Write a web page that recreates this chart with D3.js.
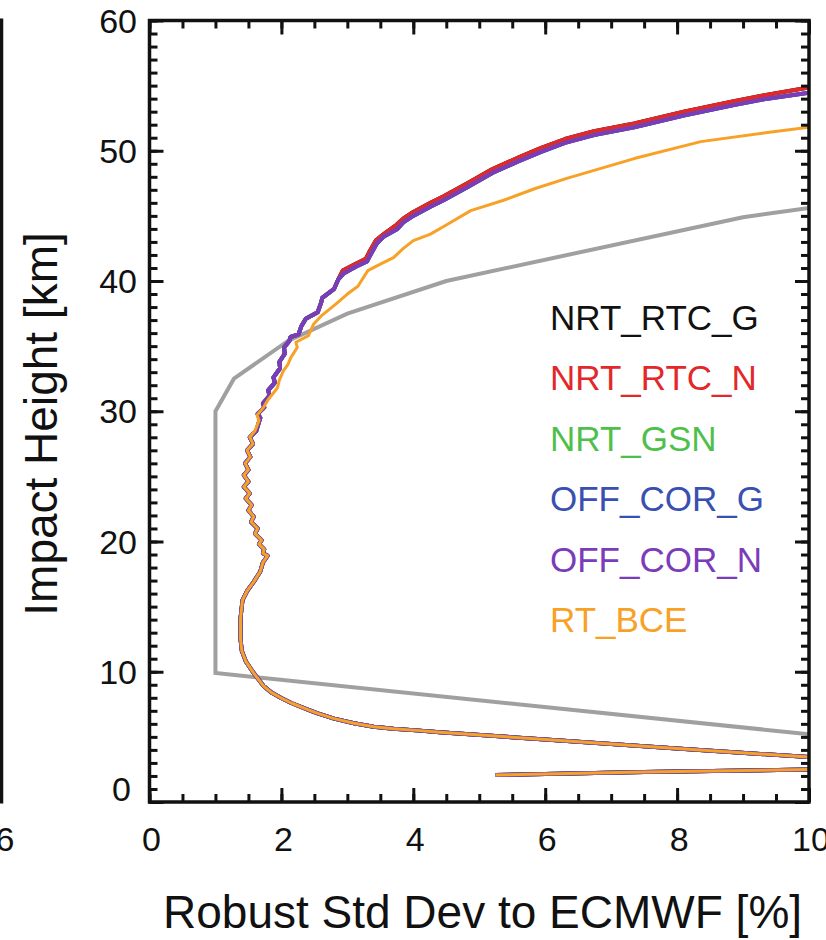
<!DOCTYPE html>
<html>
<head>
<meta charset="utf-8">
<script src="https://cdn.jsdelivr.net/npm/d3@7"></script>
<style>
    body { margin: 0; background: #fff; }
    svg { display: block; font-family: "Liberation Sans", Arial, Helvetica, sans-serif; }
</style>
</head>
<body>
<svg id="chart" width="826" height="940"></svg>
<script>
// Series names and colours (legend order = draw order)
const seriesNames = ["NRT_RTC_G", "NRT_RTC_N", "NRT_GSN", "OFF_COR_G", "OFF_COR_N", "RT_BCE"];
const seriesColors = ["#111111", "#e2282a", "#4fbf4c", "#3a50b0", "#7a3cb8", "#f7a127"];

// [std dev %, impact height km] - part shared by all profiles (below ~28 km)
const lowerProfile = [
    [5.25, 2.07], [7.5, 2.3], [10.0, 2.5], [13.0, 2.8], [13.0, 3.2], [10.0, 3.45],
    [8.0, 4.1], [6.0, 4.8], [4.4, 5.35], [4.1, 5.48], [3.7, 5.62], [3.4, 5.78],
    [3.1, 6.05], [2.8, 6.4], [2.55, 6.8], [2.4, 7.1], [2.15, 7.6], [1.99, 8.0],
    [1.85, 8.4], [1.73, 8.9], [1.58, 9.9], [1.46, 10.8], [1.40, 11.6], [1.38, 12.5],
    [1.38, 14.1], [1.41, 15.5], [1.48, 16.2], [1.58, 16.9], [1.68, 17.7], [1.72, 18.4],
    [1.79, 18.9], [1.72, 19.1], [1.74, 19.4], [1.66, 19.8], [1.70, 20.1], [1.60, 20.6],
    [1.64, 21.0], [1.54, 21.5], [1.58, 21.9], [1.50, 22.4], [1.55, 22.8], [1.46, 23.3],
    [1.52, 23.7], [1.43, 24.2], [1.50, 24.6], [1.43, 25.1], [1.50, 25.5], [1.45, 26.0],
    [1.53, 26.5], [1.48, 27.0], [1.57, 27.5], [1.52, 28.0]
];

// upper part, NRT_RTC (red / black)
const upperRTC = [
    [1.62, 28.5], [1.68, 29.5], [1.64, 29.8], [1.74, 30.3], [1.72, 30.6], [1.82, 31.2],
    [1.80, 31.6], [1.90, 32.2], [1.88, 32.6], [1.98, 33.3], [1.97, 33.8], [2.05, 34.4],
    [2.04, 34.9], [2.12, 35.4], [2.14, 35.7], [2.26, 35.9], [2.30, 36.5], [2.37, 37.1],
    [2.55, 37.6], [2.60, 38.3], [2.62, 38.7], [2.80, 39.4], [2.86, 40.1], [2.93, 40.8],
    [3.12, 41.3], [3.28, 41.7], [3.33, 42.2], [3.43, 43.1], [3.55, 43.6], [3.74, 44.3],
    [3.85, 44.8], [4.0, 45.3], [4.26, 46.0], [4.46, 46.5], [4.82, 47.5], [5.2, 48.6],
    [5.6, 49.5], [5.93, 50.2], [6.3, 50.9], [6.74, 51.5], [7.35, 52.1], [8.1, 53.0],
    [8.86, 53.8], [9.37, 54.3], [10.0, 54.85], [10.6, 55.3]
];

// upper part, OFF_COR / NRT_GSN (purple / blue / green)
const upperCOR = [
    [1.62, 28.5], [1.68, 29.5], [1.64, 29.8], [1.74, 30.3], [1.72, 30.6], [1.82, 31.2],
    [1.80, 31.6], [1.90, 32.2], [1.88, 32.6], [1.98, 33.3], [1.97, 33.8], [2.05, 34.4],
    [2.04, 34.9], [2.12, 35.4], [2.14, 35.7], [2.26, 35.9], [2.30, 36.5], [2.37, 37.1],
    [2.55, 37.6], [2.60, 38.3], [2.62, 38.7], [2.80, 39.4], [2.86, 40.1], [2.95, 40.6],
    [3.13, 41.1], [3.30, 41.5], [3.35, 42.0], [3.45, 42.9], [3.55, 43.4], [3.76, 44.0],
    [3.85, 44.5], [4.0, 45.0], [4.26, 45.7], [4.46, 46.2], [4.82, 47.2], [5.2, 48.3],
    [5.6, 49.2], [5.93, 49.9], [6.3, 50.6], [6.74, 51.2], [7.35, 51.8], [8.1, 52.7],
    [8.86, 53.5], [9.37, 54.0], [10.0, 54.45], [10.6, 54.9]
];

// upper part, RT_BCE (orange)
const upperBCE = [
    [1.60, 28.5], [1.66, 29.3], [1.63, 29.7], [1.73, 30.3], [1.80, 30.9], [1.94, 31.8],
    [1.97, 32.4], [2.03, 33.1], [2.10, 33.6], [2.14, 34.1], [2.24, 34.9], [2.22, 35.3],
    [2.41, 35.8], [2.49, 36.7], [2.60, 37.3], [2.82, 38.2], [3.0, 39.0], [3.16, 39.6],
    [3.31, 40.8], [3.50, 41.3], [3.70, 41.8], [3.85, 42.5], [4.0, 43.1], [4.26, 43.6],
    [4.5, 44.3], [4.87, 45.4], [5.37, 46.2], [5.85, 47.1], [6.34, 47.9], [7.35, 49.4],
    [8.36, 50.7], [9.37, 51.4], [10.0, 51.8], [10.5, 52.1]
];

// grey reference curve
const referenceLine = [
    [10.0, 5.2], [1.0, 9.9], [1.0, 30.0], [1.28, 32.5], [2.1, 35.4], [3.0, 37.5],
    [4.5, 40.0], [9.0, 44.9], [10.0, 45.6]
];

const xMajor = [0, 2, 4, 6, 8, 10];
const yMajor = [0, 10, 20, 30, 40, 50, 60];

const profiles = [
    lowerProfile.concat(upperRTC),
    lowerProfile.concat(upperRTC),
    lowerProfile.concat(upperCOR),
    lowerProfile.concat(upperCOR),
    lowerProfile.concat(upperCOR),
    lowerProfile.concat(upperBCE)
];

const svg = d3.select("#chart");
const plotLeft = 149.5, plotRight = 809, plotTop = 20.5, plotBottom = 802;

const x = d3.scaleLinear().domain([0, 10]).range([plotLeft, plotRight]);
const y = d3.scaleLinear().domain([0, 60]).range([plotBottom, plotTop]);

// right edge of neighbouring panel (cut off in the figure)
svg.append("line")
    .attr("x1", 1.5).attr("x2", 1.5)
    .attr("y1", plotTop - 2).attr("y2", plotBottom + 1.5)
    .attr("stroke", "#111").attr("stroke-width", 3.5);
svg.append("text")
    .attr("x", 5).attr("y", 851)
    .attr("text-anchor", "middle")
    .attr("font-size", 34)
    .attr("fill", "#111")
    .text("6");

svg.append("defs").append("clipPath")
    .attr("id", "plot-clip")
    .append("rect")
    .attr("x", plotLeft).attr("y", plotTop)
    .attr("width", plotRight - plotLeft).attr("height", plotBottom - plotTop);

const line = d3.line()
    .x(d => x(d[0]))
    .y(d => y(d[1]));

const plot = svg.append("g").attr("clip-path", "url(#plot-clip)");

plot.append("path")
    .datum(referenceLine)
    .attr("fill", "none")
    .attr("stroke", "#a0a0a0")
    .attr("stroke-width", 4)
    .attr("d", line);

plot.selectAll("path.profile")
    .data(profiles)
    .enter()
    .append("path")
    .attr("class", "profile")
    .attr("fill", "none")
    .attr("stroke", (d, i) => seriesColors[i])
    .attr("stroke-width", (d, i) => i === 5 ? 3 : 4)
    .attr("stroke-linejoin", "round")
    .attr("d", line);

// axes: ticks pointing inward on all four sides
function styleAxis(g) {
    g.select(".domain").remove();
    g.selectAll(".tick line").attr("stroke", "#111").attr("stroke-width", 3);
}

const majorLen = 14, minorLen = 8;

svg.append("g").attr("transform", `translate(0,${plotBottom})`)
    .call(d3.axisBottom(x).tickValues(d3.range(0, 10.01, 0.5)).tickSize(-minorLen).tickFormat(""))
    .call(styleAxis);
svg.append("g").attr("transform", `translate(0,${plotBottom})`)
    .call(d3.axisBottom(x).tickValues(xMajor).tickSize(-majorLen).tickFormat(""))
    .call(styleAxis);
svg.append("g").attr("transform", `translate(0,${plotTop})`)
    .call(d3.axisTop(x).tickValues(d3.range(0, 10.01, 0.5)).tickSize(-minorLen).tickFormat(""))
    .call(styleAxis);
svg.append("g").attr("transform", `translate(0,${plotTop})`)
    .call(d3.axisTop(x).tickValues(xMajor).tickSize(-majorLen).tickFormat(""))
    .call(styleAxis);

svg.append("g").attr("transform", `translate(${plotLeft},0)`)
    .call(d3.axisLeft(y).tickValues(d3.range(0, 61, 1)).tickSize(-minorLen).tickFormat(""))
    .call(styleAxis);
svg.append("g").attr("transform", `translate(${plotLeft},0)`)
    .call(d3.axisLeft(y).tickValues(yMajor).tickSize(-majorLen).tickFormat(""))
    .call(styleAxis);
svg.append("g").attr("transform", `translate(${plotRight},0)`)
    .call(d3.axisRight(y).tickValues(d3.range(0, 61, 1)).tickSize(-minorLen).tickFormat(""))
    .call(styleAxis);
svg.append("g").attr("transform", `translate(${plotRight},0)`)
    .call(d3.axisRight(y).tickValues(yMajor).tickSize(-majorLen).tickFormat(""))
    .call(styleAxis);

// frame
svg.append("rect")
    .attr("x", plotLeft).attr("y", plotTop)
    .attr("width", plotRight - plotLeft).attr("height", plotBottom - plotTop)
    .attr("fill", "none")
    .attr("stroke", "#111")
    .attr("stroke-width", 3.5);

// tick labels
svg.selectAll("text.xlab")
    .data(xMajor)
    .enter()
    .append("text")
    .attr("class", "xlab")
    .attr("x", d => x(d) + 2)
    .attr("y", 851)
    .attr("text-anchor", "middle")
    .attr("font-size", 34)
    .attr("fill", "#111")
    .text(d => d);

svg.selectAll("text.ylab")
    .data(yMajor)
    .enter()
    .append("text")
    .attr("class", "ylab")
    .attr("x", d => d === 0 ? 131 : 137)
    .attr("y", d => d === 0 ? y(d) - 1 : y(d) + 12)
    .attr("text-anchor", "end")
    .attr("font-size", 34)
    .attr("fill", "#111")
    .text(d => d);

// axis titles
svg.append("text")
    .attr("x", 163).attr("y", 928)
    .attr("font-size", 46)
    .attr("fill", "#111")
    .text("Robust Std Dev to ECMWF [%]");

svg.append("text")
    .attr("transform", "translate(57,424) rotate(-90)")
    .attr("text-anchor", "middle")
    .attr("font-size", 46)
    .attr("fill", "#111")
    .text("Impact Height [km]");

// legend
svg.selectAll("text.legend")
    .data(seriesNames)
    .enter()
    .append("text")
    .attr("class", "legend")
    .attr("x", 550)
    .attr("y", (d, i) => 330 + i * 60.4)
    .attr("font-size", 35)
    .attr("fill", (d, i) => seriesColors[i])
    .text(d => d);
</script>
</body>
</html>
